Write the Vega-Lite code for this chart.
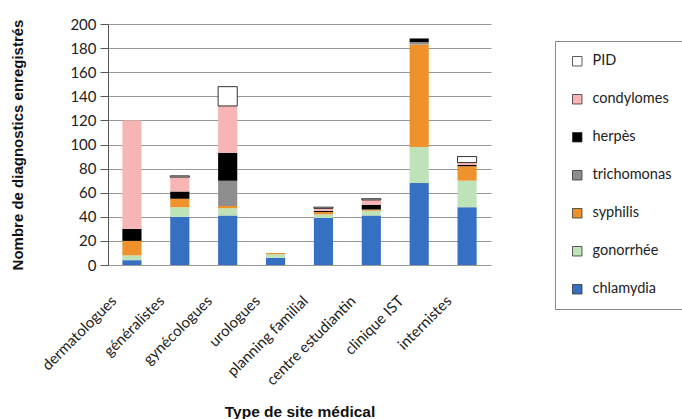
{
  "$schema": "https://vega.github.io/schema/vega-lite/v6.json",
  "autosize": {"type": "none"},
  "padding": {"left": 108, "top": 24, "right": 191, "bottom": 154},
  "width": 383,
  "height": 241,
  "background": "white",
  "config": {"view": {"stroke": null}},
  "data": {"values": [
    {"site": "dermatologues", "type": "chlamydia", "n": 4},
    {"site": "dermatologues", "type": "gonorrhée", "n": 4},
    {"site": "dermatologues", "type": "syphilis", "n": 12},
    {"site": "dermatologues", "type": "herpès", "n": 10},
    {"site": "dermatologues", "type": "condylomes", "n": 90},
    {"site": "généralistes", "type": "chlamydia", "n": 40},
    {"site": "généralistes", "type": "gonorrhée", "n": 8},
    {"site": "généralistes", "type": "syphilis", "n": 7},
    {"site": "généralistes", "type": "herpès", "n": 6},
    {"site": "généralistes", "type": "condylomes", "n": 12},
    {"site": "généralistes", "type": "PID", "n": 1},
    {"site": "gynécologues", "type": "chlamydia", "n": 41},
    {"site": "gynécologues", "type": "gonorrhée", "n": 6},
    {"site": "gynécologues", "type": "syphilis", "n": 2},
    {"site": "gynécologues", "type": "trichomonas", "n": 21},
    {"site": "gynécologues", "type": "herpès", "n": 23},
    {"site": "gynécologues", "type": "condylomes", "n": 39},
    {"site": "gynécologues", "type": "PID", "n": 16},
    {"site": "urologues", "type": "chlamydia", "n": 6},
    {"site": "urologues", "type": "gonorrhée", "n": 3},
    {"site": "urologues", "type": "syphilis", "n": 1},
    {"site": "planning familial", "type": "chlamydia", "n": 39},
    {"site": "planning familial", "type": "gonorrhée", "n": 3},
    {"site": "planning familial", "type": "syphilis", "n": 2},
    {"site": "planning familial", "type": "herpès", "n": 1},
    {"site": "planning familial", "type": "condylomes", "n": 2},
    {"site": "planning familial", "type": "PID", "n": 1},
    {"site": "centre estudiantin", "type": "chlamydia", "n": 41},
    {"site": "centre estudiantin", "type": "gonorrhée", "n": 4},
    {"site": "centre estudiantin", "type": "syphilis", "n": 1},
    {"site": "centre estudiantin", "type": "herpès", "n": 4},
    {"site": "centre estudiantin", "type": "condylomes", "n": 4},
    {"site": "centre estudiantin", "type": "PID", "n": 1},
    {"site": "clinique IST", "type": "chlamydia", "n": 68},
    {"site": "clinique IST", "type": "gonorrhée", "n": 30},
    {"site": "clinique IST", "type": "syphilis", "n": 85},
    {"site": "clinique IST", "type": "trichomonas", "n": 2},
    {"site": "clinique IST", "type": "herpès", "n": 3},
    {"site": "internistes", "type": "chlamydia", "n": 48},
    {"site": "internistes", "type": "gonorrhée", "n": 22},
    {"site": "internistes", "type": "syphilis", "n": 12},
    {"site": "internistes", "type": "herpès", "n": 1},
    {"site": "internistes", "type": "condylomes", "n": 2},
    {"site": "internistes", "type": "PID", "n": 5}
  ]},
  "transform": [
    {"window": [{"op": "row_number", "as": "rang"}]}
  ],
  "mark": {"type": "bar", "strokeWidth": 0.8},
  "encoding": {
    "x": {
      "field": "site", "type": "nominal", "sort": null,
      "scale": {"paddingInner": 0.6, "paddingOuter": 0.3},
      "axis": {
        "title": "Type de site médical",
        "titleFont": "Liberation Sans", "titleFontWeight": "bold", "titleFontSize": 15.5, "titleColor": "#111",
        "titleY": 146, "titleBaseline": "middle",
        "labelAngle": -45, "labelFont": "Lato", "labelFontSize": 15, "labelColor": "#222",
        "labelPadding": 28, "labelOffset": -23,
        "domain": false, "ticks": false
      }
    },
    "y": {
      "field": "n", "type": "quantitative", "stack": "zero",
      "scale": {"domain": [0, 200]},
      "axis": {
        "title": "Nombre de diagnostics enregistrés",
        "titleFont": "Liberation Sans", "titleFontWeight": "bold", "titleFontSize": 15, "titleColor": "#111",
        "titlePadding": 44,
        "values": [0, 20, 40, 60, 80, 100, 120, 140, 160, 180, 200],
        "labelFont": "Lato", "labelFontSize": 15, "labelColor": "#222", "labelPadding": 4,
        "tickSize": 8, "tickColor": "#555", "domainColor": "#555",
        "grid": true, "gridColor": "#999", "gridWidth": 1
      }
    },
    "order": {"field": "rang", "type": "quantitative", "sort": "ascending"},
    "color": {
      "field": "type", "type": "nominal",
      "sort": ["PID", "condylomes", "herpès", "trichomonas", "syphilis", "gonorrhée", "chlamydia"],
      "scale": {
        "domain": ["PID", "condylomes", "herpès", "trichomonas", "syphilis", "gonorrhée", "chlamydia"],
        "range": ["#ffffff", "#f7b5b5", "#000000", "#8e8e8e", "#f0922c", "#bfe3b8", "#3670c2"]
      },
      "legend": {
        "title": null, "orient": "none", "legendX": 447, "legendY": 17,
        "symbolType": "square", "symbolSize": 90, "symbolStrokeWidth": 0.8, "symbolStrokeColor": "#333",
        "labelFont": "Lato", "labelFontSize": 14.5, "labelColor": "#222", "labelOffset": 8,
        "rowPadding": 23, "padding": 13, "strokeColor": "#888", "fillColor": "white",
        "symbolOffset": 2
      }
    },
    "stroke": {
      "condition": {"test": "datum.type === 'PID'", "value": "#000000"},
      "value": null
    }
  }
}
